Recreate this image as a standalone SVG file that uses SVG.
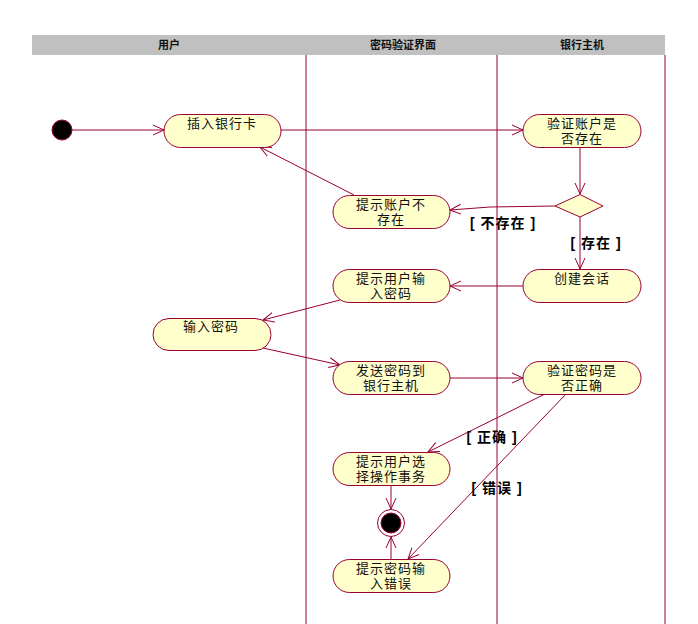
<svg xmlns="http://www.w3.org/2000/svg" width="698" height="624" viewBox="0 0 698 624">
<style>
.act{fill:#FFFFCC;stroke:#990033;stroke-width:1}
.t{font-family:"Liberation Sans","Noto Sans CJK SC",sans-serif;font-size:13px;letter-spacing:1px;fill:#111;text-anchor:middle}
.h{font-family:"Liberation Sans","Noto Sans CJK SC",sans-serif;font-size:11px;font-weight:bold;fill:#111;text-anchor:middle}
.g{font-family:"Liberation Sans","Noto Sans CJK SC",sans-serif;font-size:14px;font-weight:bold;letter-spacing:1px;fill:#000;text-anchor:middle}
.ln{stroke:#990033;stroke-width:1;fill:none}
.e{stroke:#990033;stroke-width:1;fill:none;marker-end:url(#arr)}
</style>
<defs>
<marker id="arr" viewBox="0 0 12 12" refX="11" refY="6" markerWidth="12" markerHeight="12" markerUnits="userSpaceOnUse" orient="auto">
<path d="M0,1 L11,6 L0,11" fill="none" stroke="#990033" stroke-width="1"/>
</marker>
</defs>
<rect width="698" height="624" fill="#fff"/>
<g id="swimlanes">
<rect x="32" y="35" width="633" height="20" fill="#C0C0C0"/>
<text class="h" x="169" y="49">用户</text>
<text class="h" x="403" y="49">密码验证界面</text>
<text class="h" x="582" y="49">银行主机</text>
<line class="ln" x1="306" y1="55" x2="306" y2="624"/>
<line class="ln" x1="497" y1="55" x2="497" y2="624"/>
<line class="ln" x1="665" y1="55" x2="665" y2="624"/>
</g>
<g id="connectors">
<line class="e" x1="72" y1="130" x2="164" y2="130"/>
<line class="e" x1="281" y1="130" x2="523" y2="130"/>
<line class="e" x1="580" y1="147" x2="580" y2="194"/>
<polyline class="e" points="555,206 490,207 450,210"/>
<line class="e" x1="354" y1="195" x2="260" y2="147"/>
<line class="e" x1="580" y1="217" x2="580" y2="269"/>
<line class="e" x1="523" y1="286" x2="450" y2="286"/>
<line class="e" x1="340" y1="300" x2="263" y2="320"/>
<line class="e" x1="263" y1="348" x2="340" y2="365"/>
<line class="e" x1="450" y1="378" x2="523" y2="378"/>
<line class="e" x1="545" y1="394" x2="428" y2="452"/>
<line class="e" x1="566" y1="394" x2="408" y2="559"/>
<line class="e" x1="391" y1="486" x2="391" y2="509"/>
<line class="e" x1="391" y1="559" x2="391" y2="537"/>
<text class="g" x="503" y="228">[ 不存在 ]</text>
<text class="g" x="596" y="248">[ 存在 ]</text>
<text class="g" x="492" y="442">[ 正确 ]</text>
<text class="g" x="497" y="493">[ 错误 ]</text>
</g>
<g id="start"><circle cx="62" cy="130" r="10" fill="#000" stroke="#990033"/></g>
<g id="n_insert"><rect class="act" x="164" y="114.5" width="117" height="33" rx="16.5"/><text class="t" x="222" y="128">插入银行卡</text></g>
<g id="n_verifyAcct"><rect class="act" x="523" y="114.5" width="118" height="33" rx="16.5"/><text class="t" x="582" y="128">验证账户是</text><text class="t" x="582" y="143">否存在</text></g>
<g id="decision"><polygon points="555,206 580,194.5 603,206 580,217" fill="#FFFFCC" stroke="#990033"/></g>
<g id="n_noAcct"><rect class="act" x="333" y="195.5" width="117" height="33" rx="16.5"/><text class="t" x="391" y="209">提示账户不</text><text class="t" x="391" y="224">存在</text></g>
<g id="n_session"><rect class="act" x="523" y="269.5" width="118" height="33" rx="16.5"/><text class="t" x="582" y="283">创建会话</text></g>
<g id="n_promptPwd"><rect class="act" x="333" y="269.5" width="117" height="33" rx="16.5"/><text class="t" x="391" y="283">提示用户输</text><text class="t" x="391" y="298">入密码</text></g>
<g id="n_inputPwd"><rect class="act" x="153" y="318.5" width="118" height="32" rx="16"/><text class="t" x="211" y="331">输入密码</text></g>
<g id="n_sendPwd"><rect class="act" x="333" y="361.5" width="117" height="33" rx="16.5"/><text class="t" x="391" y="375">发送密码到</text><text class="t" x="391" y="390">银行主机</text></g>
<g id="n_verifyPwd"><rect class="act" x="523" y="361.5" width="118" height="33" rx="16.5"/><text class="t" x="582" y="375">验证密码是</text><text class="t" x="582" y="390">否正确</text></g>
<g id="n_choose"><rect class="act" x="333" y="452.5" width="117" height="33" rx="16.5"/><text class="t" x="391" y="466">提示用户选</text><text class="t" x="391" y="481">择操作事务</text></g>
<g id="end"><circle cx="391" cy="523" r="13.5" fill="#fff" stroke="#990033"/><circle cx="391" cy="523" r="10" fill="#000" stroke="#990033"/></g>
<g id="n_pwdErr"><rect class="act" x="333" y="559.5" width="117" height="33" rx="16.5"/><text class="t" x="391" y="573">提示密码输</text><text class="t" x="391" y="588">入错误</text></g>
</svg>
